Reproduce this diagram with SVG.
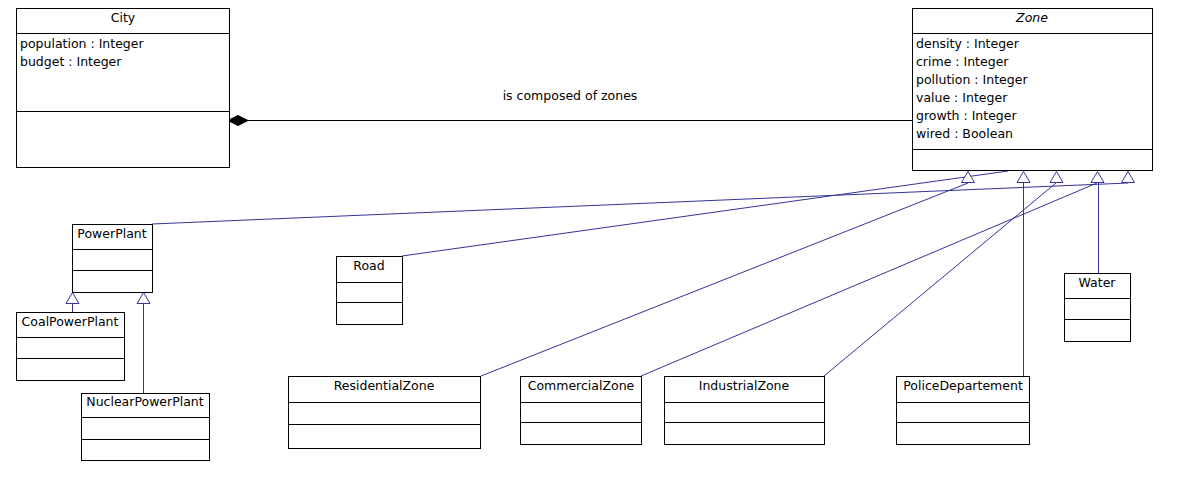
<svg xmlns="http://www.w3.org/2000/svg" width="1193" height="490" viewBox="0 0 1193 490">
<style>
.box{fill:#fff;stroke:#000;stroke-width:1}
.sep{stroke:#000;stroke-width:1}
text{font-family:"DejaVu Sans",sans-serif;font-size:12.5px;fill:#000}
.t{text-anchor:middle}
.gen{fill:none;stroke:#333399;stroke-width:1}
.tri{fill:#fff;stroke:#333399;stroke-width:1}
</style>
<rect width="1193" height="490" fill="#fff"/>
<g id="connectors">
<line x1="248" y1="120.5" x2="912" y2="120.5" stroke="#000"/>
<polygon points="228,120.5 238,115.5 248,120.5 238,125.5" fill="#000" stroke="#000"/>
<text class="t" x="570" y="100">is composed of zones</text>
<polyline class="gen" points="402,256 1008,171"/>
<polyline class="gen" points="1003,160.5 1008,170.5 1014,160.5"/>
<line class="gen" x1="481" y1="376" x2="968" y2="183"/>
<line class="gen" x1="152" y1="224" x2="1128" y2="183"/>
<line class="gen" x1="641" y1="376" x2="1097" y2="183"/>
<line class="gen" x1="824" y1="376" x2="1056" y2="183"/>
<line class="gen" x1="1023.5" y1="376" x2="1023.5" y2="183"/>
<line class="gen" x1="1098.5" y1="273" x2="1098.5" y2="183"/>
<polygon class="tri" points="968,171.5 961.5,182.5 974.5,182.5"/>
<polygon class="tri" points="1023.5,171.5 1017,182.5 1030,182.5"/>
<polygon class="tri" points="1056.5,171.5 1050,182.5 1063,182.5"/>
<polygon class="tri" points="1097.5,171.5 1091,182.5 1104,182.5"/>
<polygon class="tri" points="1128,171.5 1121.5,182.5 1134.5,182.5"/>
<line class="gen" x1="72.5" y1="303" x2="72.5" y2="312"/>
<line class="gen" x1="143.5" y1="303" x2="143.5" y2="393"/>
<polygon class="tri" points="72.5,292.5 66,303.5 79,303.5"/>
<polygon class="tri" points="143.5,292.5 137,303.5 150,303.5"/>
</g>
<g id="City">
<rect class="box" x="16.5" y="8.5" width="213" height="159"/>
<line class="sep" x1="16.5" y1="33.5" x2="229.5" y2="33.5"/>
<line class="sep" x1="16.5" y1="111.5" x2="229.5" y2="111.5"/>
<text class="t" x="123" y="22">City</text>
<text x="20" y="48">population : Integer</text>
<text x="20" y="66">budget : Integer</text>
</g>
<g id="Zone">
<rect class="box" x="912.5" y="8.5" width="240" height="162"/>
<line class="sep" x1="912.5" y1="33.5" x2="1152.5" y2="33.5"/>
<line class="sep" x1="912.5" y1="149.5" x2="1152.5" y2="149.5"/>
<text class="t" x="1032" y="22" font-style="italic">Zone</text>
<text x="916" y="48">density : Integer</text>
<text x="916" y="66">crime : Integer</text>
<text x="916" y="84">pollution : Integer</text>
<text x="916" y="102">value : Integer</text>
<text x="916" y="120">growth : Integer</text>
<text x="916" y="138">wired : Boolean</text>
</g>
<g id="PowerPlant">
<rect class="box" x="72.5" y="224.5" width="80" height="68"/>
<line class="sep" x1="72.5" y1="249.5" x2="152.5" y2="249.5"/>
<line class="sep" x1="72.5" y1="270.5" x2="152.5" y2="270.5"/>
<text class="t" x="112" y="238">PowerPlant</text>
</g>
<g id="CoalPowerPlant">
<rect class="box" x="16.5" y="312.5" width="108" height="68"/>
<line class="sep" x1="16.5" y1="337.5" x2="124.5" y2="337.5"/>
<line class="sep" x1="16.5" y1="358.5" x2="124.5" y2="358.5"/>
<text class="t" x="70" y="326">CoalPowerPlant</text>
</g>
<g id="NuclearPowerPlant">
<rect class="box" x="81.5" y="393.5" width="128" height="67"/>
<line class="sep" x1="81.5" y1="417.5" x2="209.5" y2="417.5"/>
<line class="sep" x1="81.5" y1="439.5" x2="209.5" y2="439.5"/>
<text class="t" x="145" y="406">NuclearPowerPlant</text>
</g>
<g id="Road">
<rect class="box" x="336.5" y="256.5" width="66" height="68"/>
<line class="sep" x1="336.5" y1="282.5" x2="402.5" y2="282.5"/>
<line class="sep" x1="336.5" y1="302.5" x2="402.5" y2="302.5"/>
<text class="t" x="369" y="270">Road</text>
</g>
<g id="ResidentialZone">
<rect class="box" x="288.5" y="376.5" width="192" height="72"/>
<line class="sep" x1="288.5" y1="402.5" x2="480.5" y2="402.5"/>
<line class="sep" x1="288.5" y1="424.5" x2="480.5" y2="424.5"/>
<text class="t" x="384" y="390">ResidentialZone</text>
</g>
<g id="CommercialZone">
<rect class="box" x="520.5" y="376.5" width="121" height="68"/>
<line class="sep" x1="520.5" y1="402.5" x2="641.5" y2="402.5"/>
<line class="sep" x1="520.5" y1="422.5" x2="641.5" y2="422.5"/>
<text class="t" x="581" y="390">CommercialZone</text>
</g>
<g id="IndustrialZone">
<rect class="box" x="664.5" y="376.5" width="160" height="68"/>
<line class="sep" x1="664.5" y1="402.5" x2="824.5" y2="402.5"/>
<line class="sep" x1="664.5" y1="422.5" x2="824.5" y2="422.5"/>
<text class="t" x="744" y="390">IndustrialZone</text>
</g>
<g id="PoliceDepartement">
<rect class="box" x="896.5" y="376.5" width="133" height="68"/>
<line class="sep" x1="896.5" y1="402.5" x2="1029.5" y2="402.5"/>
<line class="sep" x1="896.5" y1="422.5" x2="1029.5" y2="422.5"/>
<text class="t" x="963" y="390">PoliceDepartement</text>
</g>
<g id="Water">
<rect class="box" x="1064.5" y="273.5" width="66" height="68"/>
<line class="sep" x1="1064.5" y1="298.5" x2="1130.5" y2="298.5"/>
<line class="sep" x1="1064.5" y1="319.5" x2="1130.5" y2="319.5"/>
<text class="t" x="1097" y="287">Water</text>
</g>
</svg>
